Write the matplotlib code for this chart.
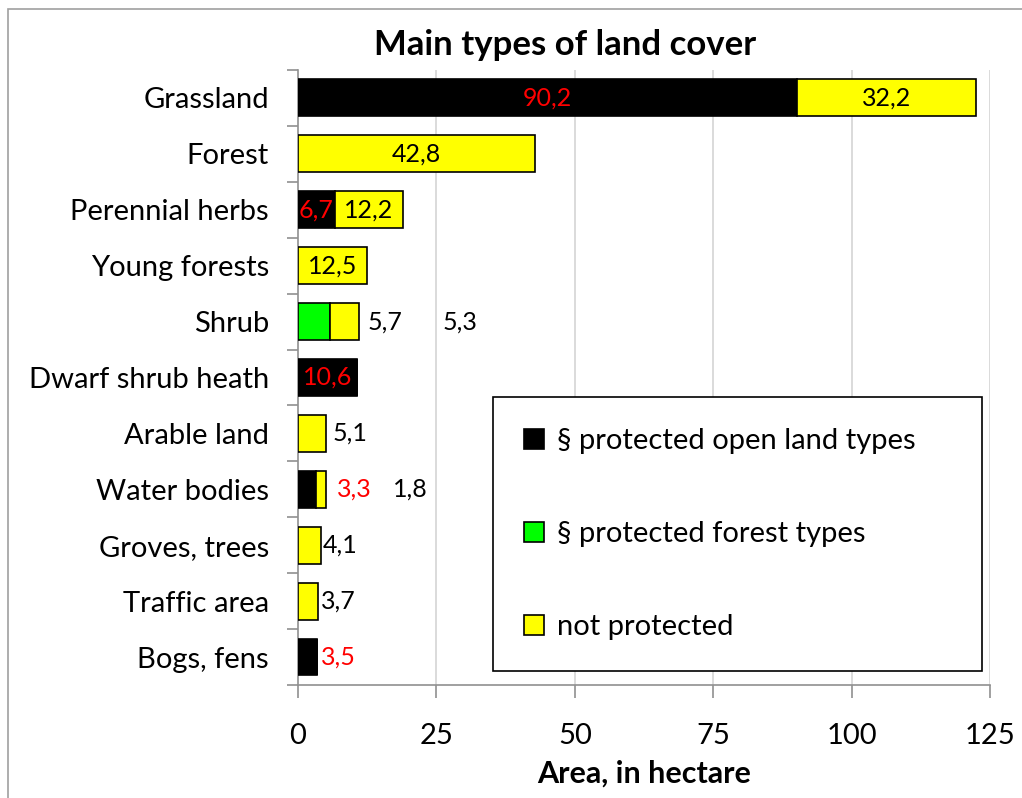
import matplotlib
matplotlib.use("Agg")
import matplotlib.pyplot as plt
import numpy as np
from matplotlib.patches import Rectangle

plt.rcParams['font.family'] = ['Lato', 'DejaVu Sans']

categories = ['Grassland', 'Forest', 'Perennial herbs', 'Young forests', 'Shrub',
              'Dwarf shrub heath', 'Arable land', 'Water bodies', 'Groves, trees',
              'Traffic area', 'Bogs, fens']
open_land = [90.2, 0, 6.7, 0, 0, 10.6, 0, 3.3, 0, 0, 3.5]
forest_types = [0, 0, 0, 0, 5.7, 0, 0, 0, 0, 0, 0]
not_protected = [32.2, 42.8, 12.2, 12.5, 5.3, 0, 5.1, 1.8, 4.1, 3.7, 0]
x_ticks = [0, 25, 50, 75, 100, 125]

fig = plt.figure(figsize=(10.22, 7.98), dpi=100)
ax = fig.add_axes([0.2916, 0.1416, 0.9687 - 0.2916, 0.9123 - 0.1416])

# gray frame round the chart (left and top edges visible)
fig.patches.append(Rectangle((0.0078, -0.1), 1.2, 0.9887 + 0.1, transform=fig.transFigure,
                             fill=False, edgecolor='#a0a0a0', linewidth=1.2))

y = np.arange(len(categories))
h = 0.66
ol = np.array(open_land)
ft = np.array(forest_types)
npv = np.array(not_protected)

ax.barh(y, ol, height=h, color='#000000', edgecolor='#000000', linewidth=1.2,
        label='§ protected open land types', zorder=3)
ax.barh(y, ft, height=h, left=ol, color='#00ff00', edgecolor='#000000', linewidth=1.2,
        label='§ protected forest types', zorder=3)
ax.barh(y, npv, height=h, left=ol + ft, color='#ffff00', edgecolor='#000000', linewidth=1.2,
        label='not protected', zorder=3)

def fmt(v):
    return ('%.1f' % v).replace('.', ',')

fs = 18
# labels drawn inside the segments, where they fit
for i in range(len(categories)):
    if ol[i] >= 6:
        ax.text(ol[i] / 2, i, fmt(ol[i]), color='#ff0000', ha='center', va='center',
                fontsize=fs, zorder=4)
    if npv[i] >= 12:
        ax.text(ol[i] + ft[i] + npv[i] / 2, i, fmt(npv[i]), color='black', ha='center',
                va='center', fontsize=fs, zorder=4)

# labels that overflow to the right of small bars
ax.text(15.7, 4, fmt(ft[4]), ha='center', va='center', fontsize=fs)
ax.text(29.3, 4, fmt(npv[4]), ha='center', va='center', fontsize=fs)
ax.text(9.4, 6, fmt(npv[6]), ha='center', va='center', fontsize=fs)
ax.text(10.1, 7, fmt(ol[7]), ha='center', va='center', fontsize=fs, color='#ff0000')
ax.text(20.2, 7, fmt(npv[7]), ha='center', va='center', fontsize=fs)
ax.text(npv[8] + 0.4, 8, fmt(npv[8]), ha='left', va='center', fontsize=fs)
ax.text(npv[9] + 0.4, 9, fmt(npv[9]), ha='left', va='center', fontsize=fs)
ax.text(ol[10] + 0.7, 10, fmt(ol[10]), ha='left', va='center', fontsize=fs, color='#ff0000')

ax.set_xlim(0, 125)
ax.set_ylim(len(categories) - 0.5, -0.5)
ax.set_xticks(x_ticks)
ax.set_xticklabels([str(t) for t in x_ticks], fontsize=21)
ax.set_yticks(y)
ax.set_yticklabels(categories, fontsize=21)
ax.set_yticks(np.arange(len(categories) + 1) - 0.5, minor=True)
ax.tick_params(axis='y', which='major', length=0, pad=21)
ax.tick_params(axis='y', which='minor', length=8, color='#909090', width=1.2)
ax.tick_params(axis='x', which='major', length=9, color='#909090', width=1.2, pad=18)

for t in x_ticks[1:]:
    ax.axvline(t, color='#d4d4d4', linewidth=1.2, zorder=0)

for s in ['top', 'right']:
    ax.spines[s].set_visible(False)
for s in ['left', 'bottom']:
    ax.spines[s].set_color('#909090')
    ax.spines[s].set_linewidth(1.2)

ax.set_xlabel('Area, in hectare', fontsize=22, fontweight='bold', labelpad=8)

leg = ax.legend(loc='lower left', bbox_to_anchor=(0.282, 0.023, 0.707, 0.45), mode='expand',
                fontsize=21, frameon=True, fancybox=False, edgecolor='black', framealpha=1,
                handlelength=0.7, handleheight=0.7, labelspacing=2.3, borderpad=1.05,
                handletextpad=0.45, borderaxespad=0)
leg.get_frame().set_linewidth(1.2)

fig.text(0.553, 0.944, 'Main types of land cover', ha='center', va='center',
         fontsize=25, fontweight='bold')

fig.savefig('out.png', dpi=100)
